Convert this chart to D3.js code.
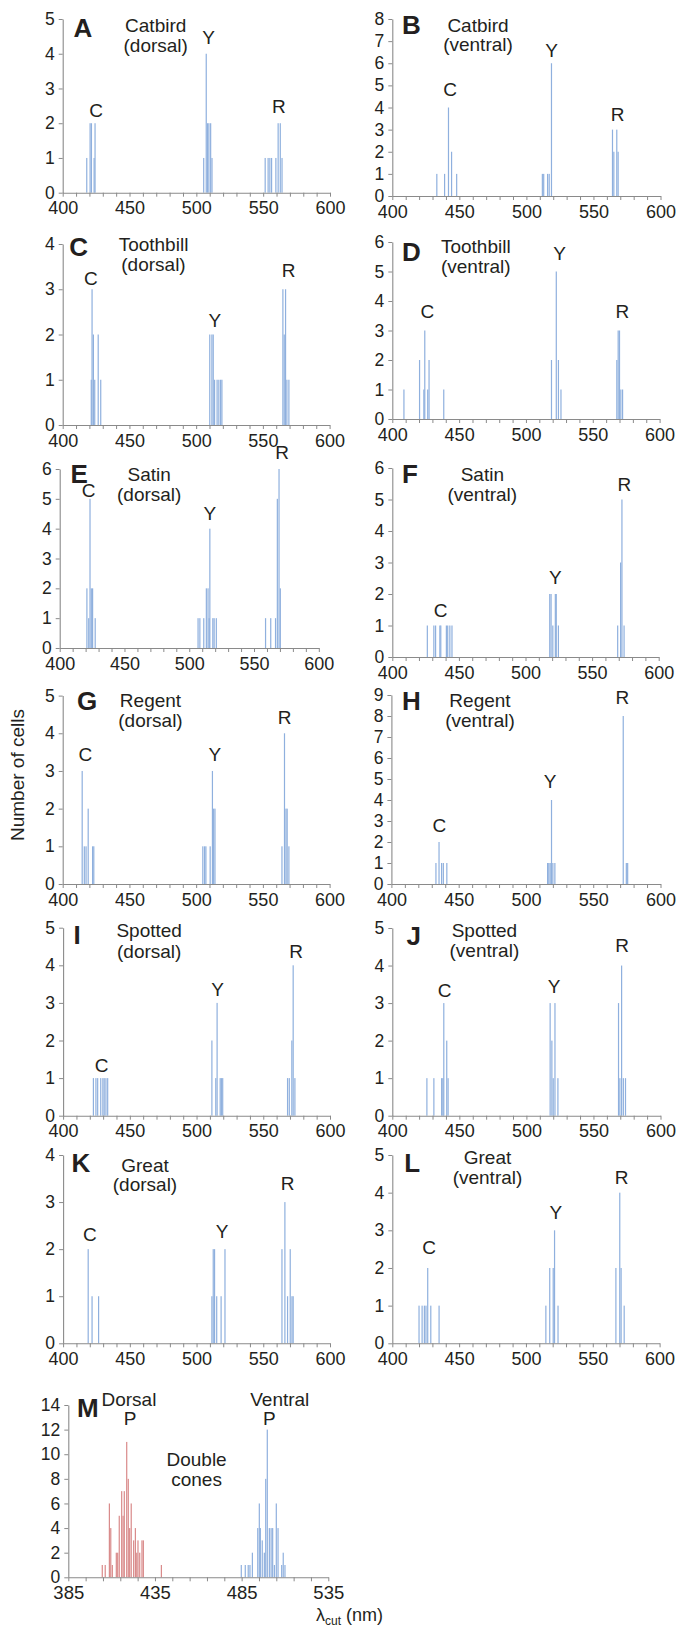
<!DOCTYPE html>
<html>
<head>
<meta charset="utf-8">
<script src="https://cdn.jsdelivr.net/npm/d3@7"></script>
<style>
  body { margin: 0; background: #fff; }
  svg { display: block; }
  text { font-family: "Liberation Sans", Arial, Helvetica, sans-serif; fill: #231f20; }
</style>
</head>
<body>
<svg id="chart" width="679" height="1628"></svg>
<script>
// ---- Single-cone λcut histograms (wavelength in nm, number of cells) ----
const catbirdDorsalNm    = [418, 420.5, 421.5, 423.5, 424.2, 505.5, 507.4, 508.4, 509.4, 510.7, 511.7, 551.5, 553.7, 555, 556.3, 559.5, 561.2, 562.8, 564.1];
const catbirdDorsalN     = [1, 2, 2, 1, 2, 1, 4, 2, 2, 2, 1, 1, 1, 1, 1, 1, 2, 2, 1];
const catbirdVentralNm   = [433.2, 439, 441.9, 444.2, 448, 511.9, 512.9, 515.8, 517, 518.7, 564.2, 565.2, 567.4, 568.4];
const catbirdVentralN    = [1, 1, 4, 2, 1, 1, 1, 1, 1, 6, 3, 2, 3, 2];
const toothbillDorsalNm  = [421.4, 422, 423, 424, 426.6, 428.5, 510.2, 511.8, 512.8, 513.8, 515.7, 517, 518.3, 519.3, 565, 566, 567, 568, 569.5];
const toothbillDorsalN   = [1, 3, 2, 1, 2, 1, 2, 2, 2, 1, 1, 1, 1, 1, 3, 2, 3, 1, 1];
const toothbillVentralNm = [408.7, 420.4, 423.6, 424.3, 426.5, 427.5, 438.5, 519.1, 522.7, 524.3, 526.2, 568, 569, 570, 571, 572.3];
const toothbillVentralN  = [1, 2, 1, 3, 1, 2, 1, 2, 5, 2, 1, 2, 3, 3, 1, 1];
const satinDorsalNm      = [421, 422.4, 423.4, 424.4, 425.4, 427.4, 506.8, 508.2, 511.2, 513.2, 514.5, 515.4, 515.9, 518.2, 519.2, 520.9, 558.9, 562.9, 566.6, 568, 569.3, 570.3];
const satinDorsalN       = [2, 1, 5, 2, 2, 1, 1, 1, 1, 2, 2, 1, 4, 1, 1, 1, 1, 1, 1, 5, 6, 2];
const satinVentralNm     = [426.3, 431.2, 432.5, 435.7, 436.4, 440.6, 441.6, 443.2, 444.8, 518.2, 519.2, 520.5, 522.4, 523.1, 524.7, 569.2, 571.4, 572.4, 574];
const satinVentralN      = [1, 1, 1, 1, 1, 1, 1, 1, 1, 2, 2, 1, 2, 2, 1, 1, 3, 5, 1];
const regentDorsalNm     = [414.6, 416.2, 417.5, 419.1, 422.4, 423.3, 505, 506.3, 507.3, 510.5, 512.2, 513.1, 514.1, 564.3, 566.2, 567.3, 568.2, 569.5];
const regentDorsalN      = [3, 1, 1, 2, 1, 1, 1, 1, 1, 1, 3, 2, 2, 1, 4, 2, 2, 1];
const regentVentralNm    = [433.1, 435.4, 437.3, 438.6, 441.2, 516.1, 517, 518, 519, 520, 521.5, 572.3, 574.6, 575.6];
const regentVentralN     = [1, 2, 1, 1, 1, 1, 1, 1, 4, 1, 1, 8, 1, 1];
const spottedDorsalNm    = [422.7, 424.6, 425.9, 428.2, 429.8, 430.8, 432.1, 433.4, 511.5, 514.4, 515.4, 517.7, 518.6, 519.6, 568.2, 569.5, 571.4, 572.4, 573.7];
const spottedDorsalN     = [1, 1, 1, 1, 1, 1, 1, 1, 2, 1, 3, 1, 1, 1, 1, 1, 2, 4, 1];
const spottedVentralNm   = [425.8, 431, 436.8, 437.7, 438.4, 440.6, 441.6, 517.7, 519, 520, 521.3, 523.5, 568.7, 569.7, 571, 572.3, 573.9];
const spottedVentralN    = [1, 1, 1, 1, 3, 2, 1, 3, 2, 1, 3, 1, 3, 1, 4, 1, 1];
const greatDorsalNm      = [418.8, 421.7, 426.6, 511.5, 512.5, 513.5, 515.1, 518.4, 521.3, 564, 566.2, 568.2, 570.2, 571.5, 572.4];
const greatDorsalN       = [2, 1, 1, 1, 2, 2, 1, 1, 2, 2, 3, 1, 2, 1, 1];
const greatVentralNm     = [420, 422.3, 424, 425.2, 426.5, 428.8, 435, 514.9, 517.8, 520.4, 521.4, 524, 567.3, 570.2, 571.2, 573.5];
const greatVentralN      = [1, 1, 1, 1, 2, 1, 1, 1, 2, 2, 3, 1, 2, 4, 2, 1];

// ---- Double-cone λcut histograms ----
const doubleDorsalNm  = [404.6, 406.3, 408.7, 409.5, 410.4, 412.7, 413.5, 414.4, 415.8, 416.6, 417.3, 418.7, 419.6, 420.4, 421.3, 422.7, 423.7, 424.5, 425.2, 426.2, 427.5, 428.3, 438.7];
const doubleDorsalN   = [1, 1, 6, 4, 1, 2, 2, 5, 7, 5, 7, 11, 8, 4, 6, 3, 4, 2, 3, 2, 3, 3, 1];
const doubleVentralNm = [484.8, 487.1, 488.8, 489.8, 491.2, 494.3, 495.2, 495.8, 496.9, 498.1, 498.9, 499.8, 501, 502, 502.9, 503.9, 505, 506, 508.1, 509, 510];
const doubleVentralN  = [1, 1, 1, 1, 2, 4, 6, 4, 3, 2, 8, 12, 4, 4, 4, 1, 6, 4, 1, 2, 1];

// ---- Axis ticks ----
const singleConeTicks = [400, 450, 500, 550, 600];
const doubleConeTicks = [385, 435, 485, 535];

const blue = "#8fb0de";
const red  = "#d98a8a";

// Panel geometry: x0/x1 = pixel span of the wavelength axis, base/top = pixel span of the count axis.
const panels = [
  { id: "A", nm: catbirdDorsalNm,    n: catbirdDorsalN,    x0: 62.7,  x1: 330,   base: 192.7,  top: 19,    yMax: 5, title: ["Catbird", "(dorsal)"],    letter: [10.8, 17.7], tpos: [93, 13, 33],
    peaks: [["C", 425, 2.18], ["Y", 509.1, 4.27], ["R", 561.8, 2.29]] },
  { id: "B", nm: catbirdVentralNm,   n: catbirdVentralN,   x0: 392.3, x1: 660.5, base: 196,    top: 19,    yMax: 8, title: ["Catbird", "(ventral)"],   letter: [9.7, 15],    tpos: [85.7, 13, 31.7],
    peaks: [["C", 443.2, 4.52], ["Y", 518.8, 6.3], ["R", 568.1, 3.39]] },
  { id: "C", nm: toothbillDorsalNm,  n: toothbillDorsalN,  x0: 62.7,  x1: 329.6, base: 425,    top: 244,   yMax: 4, title: ["Toothbill", "(dorsal)"],  letter: [6.5, 11.7],  tpos: [90.8, 7, 27],
    peaks: [["C", 421.1, 3.09], ["Y", 514.1, 2.17], ["R", 569.3, 3.26]] },
  { id: "D", nm: toothbillVentralNm, n: toothbillVentralN, x0: 392.3, x1: 659.6, base: 419,    top: 242,   yMax: 6, title: ["Toothbill", "(ventral)"], letter: [9.7, 18.7],  tpos: [83.5, 11.3, 31.3],
    peaks: [["C", 426.2, 3.41], ["Y", 525.2, 5.38], ["R", 572.1, 3.41]] },
  { id: "E", nm: satinDorsalNm,      n: satinDorsalN,      x0: 59.7,  x1: 318.8, base: 648,    top: 469,   yMax: 6, title: ["Satin", "(dorsal)"],      letter: [10.8, 14],   tpos: [89.5, 12.3, 31.7],
    peaks: [["C", 422.3, 5.06], ["Y", 515.9, 4.3], ["R", 571.6, 6.35]] },
  { id: "F", nm: satinVentralNm,     n: satinVentralN,     x0: 392.3, x1: 658.7, base: 657,    top: 468,   yMax: 6, title: ["Satin", "(ventral)"],     letter: [9.7, 15],    tpos: [90, 13.3, 33.3],
    peaks: [["C", 436.3, 1.26], ["Y", 522.4, 2.32], ["R", 574.3, 5.28]] },
  { id: "G", nm: regentDorsalNm,     n: regentDorsalN,     x0: 62.7,  x1: 329.6, base: 884,    top: 695.6, yMax: 5, title: ["Regent", "(dorsal)"],     letter: [14.3, 14.4], tpos: [87.8, 11.1, 31.1],
    peaks: [["C", 416.9, 3.26], ["Y", 514.1, 3.26], ["R", 566.3, 4.24]] },
  { id: "H", nm: regentVentralNm,    n: regentVentralN,    x0: 391.4, x1: 660.5, base: 884,    top: 695,   yMax: 9, title: ["Regent", "(ventral)"],    letter: [10.6, 15],   tpos: [88.6, 11.7, 31.7],
    peaks: [["C", 435.7, 2.48], ["Y", 518, 4.59], ["R", 571.6, 8.56]] },
  { id: "I", nm: spottedDorsalNm,    n: spottedDorsalN,    x0: 63.1,  x1: 330,   base: 1115.7, top: 927.7, yMax: 5, title: ["Spotted", "(dorsal)"],    letter: [10.4, 16.3], tpos: [86.1, 9, 30.6],
    peaks: [["C", 428.8, 1.17], ["Y", 515.8, 3.18], ["R", 574.7, 4.2]] },
  { id: "J", nm: spottedVentralNm,   n: spottedVentralN,   x0: 392.3, x1: 660.5, base: 1115.7, top: 928,   yMax: 5, title: ["Spotted", "(ventral)"],   letter: [14.3, 17],   tpos: [92.1, 8.7, 29.3],
    peaks: [["C", 439, 3.17], ["Y", 520.7, 3.28], ["R", 571.3, 4.37]] },
  { id: "K", nm: greatDorsalNm,      n: greatDorsalN,      x0: 63.1,  x1: 330,   base: 1343.3, top: 1155,  yMax: 4, title: ["Great", "(dorsal)"],      letter: [8.3, 17],    tpos: [81.9, 16.7, 36],
    peaks: [["C", 420.1, 2.17], ["Y", 519.1, 2.24], ["R", 568.3, 3.25]] },
  { id: "L", nm: greatVentralNm,     n: greatVentralN,     x0: 392.3, x1: 659.6, base: 1343.3, top: 1155,  yMax: 5, title: ["Great", "(ventral)"],     letter: [12, 17],     tpos: [95.2, 9, 29],
    peaks: [["C", 427.5, 2.36], ["Y", 522.3, 3.29], ["R", 571.5, 4.22]] }
];

const svg = d3.select("#chart");
const axisGrey = "#8a8a8a";

function styleAxis(g, size) {
  g.selectAll("path.domain").attr("stroke", axisGrey).attr("stroke-width", 1.1);
  g.selectAll(".tick line").attr("stroke", axisGrey).attr("stroke-width", 1);
  g.selectAll(".tick text")
    .attr("fill", "#231f20")
    .style("font-family", "'Liberation Sans', Arial, sans-serif")
    .style("font-size", size + "px");
}

function drawBars(g, x, y, nm, n, color) {
  g.append("g").selectAll("rect")
    .data(nm.map((w, i) => ({ w, c: n[i] })))
    .join("rect")
    .attr("x", d => x(d.w) - 0.6)
    .attr("width", 1.2)
    .attr("y", d => y(d.c))
    .attr("height", d => y(0) - y(d.c))
    .attr("fill", color);
}

panels.forEach(p => {
  const x = d3.scaleLinear().domain([400, 600]).range([p.x0, p.x1]);
  const y = d3.scaleLinear().domain([0, p.yMax]).range([p.base, p.top]);
  const g = svg.append("g").attr("class", "panel-" + p.id);

  drawBars(g, x, y, p.nm, p.n, blue);

  g.append("g")
    .attr("transform", `translate(0,${p.base})`)
    .call(d3.axisBottom(x)
      .tickValues(d3.range(400, 601, 10))
      .tickSize(4).tickSizeOuter(0).tickPadding(5)
      .tickFormat(d => singleConeTicks.includes(d) ? d : ""))
    .call(styleAxis, 18);

  g.append("g")
    .attr("transform", `translate(${p.x0},0)`)
    .call(d3.axisLeft(y)
      .tickValues(d3.range(0, p.yMax + 1))
      .tickSize(4).tickSizeOuter(0).tickPadding(4)
      .tickFormat(d3.format("d")))
    .call(styleAxis, 17.5);

  // panel letter
  g.append("text")
    .attr("x", p.x0 + p.letter[0]).attr("y", p.top + p.letter[1])
    .style("font-size", "26px").style("font-weight", "bold")
    .text(p.id);

  // bird and body region
  const t = g.append("text").attr("text-anchor", "middle").style("font-size", "19px");
  t.append("tspan").attr("x", p.x0 + p.tpos[0]).attr("y", p.top + p.tpos[1]).text(p.title[0]);
  t.append("tspan").attr("x", p.x0 + p.tpos[0]).attr("y", p.top + p.tpos[2]).text(p.title[1]);

  // cone class labels above each cluster
  g.selectAll("text.peak")
    .data(p.peaks)
    .join("text")
    .attr("class", "peak")
    .attr("text-anchor", "middle")
    .attr("x", d => x(d[1]))
    .attr("y", d => y(d[2]))
    .style("font-size", "19px")
    .text(d => d[0]);
});

// ---- Panel M: double cones ----
{
  const x = d3.scaleLinear().domain([385, 535]).range([68.3, 328.3]);
  const y = d3.scaleLinear().domain([0, 14]).range([1577.3, 1405]);
  const g = svg.append("g").attr("class", "panel-M");

  drawBars(g, x, y, doubleDorsalNm, doubleDorsalN, red);
  drawBars(g, x, y, doubleVentralNm, doubleVentralN, blue);

  g.append("g")
    .attr("transform", `translate(0,${y(0)})`)
    .call(d3.axisBottom(x)
      .tickValues(d3.range(385, 536, 10))
      .tickSize(4).tickSizeOuter(0).tickPadding(5)
      .tickFormat(d => doubleConeTicks.includes(d) ? d : ""))
    .call(styleAxis, 18.5);

  g.append("g")
    .attr("transform", `translate(${x(385)},0)`)
    .call(d3.axisLeft(y)
      .tickValues(d3.range(0, 15, 2))
      .tickSize(4).tickSizeOuter(0).tickPadding(4))
    .call(styleAxis, 17.5);

  g.append("text").attr("x", 77).attr("y", 1417)
    .style("font-size", "26px").style("font-weight", "bold").text("M");

  const notes = [
    ["Dorsal", 420, 13.9], ["P", 420.6, 12.4],
    ["Ventral", 507, 13.9], ["P", 501, 12.4],
    ["Double", 459, 9.06], ["cones", 459, 7.44]
  ];
  g.selectAll("text.note")
    .data(notes)
    .join("text")
    .attr("class", "note")
    .attr("text-anchor", "middle")
    .attr("x", d => x(d[1]))
    .attr("y", d => y(d[2]))
    .style("font-size", "19px")
    .text(d => d[0]);
}

// ---- Shared axis titles ----
svg.append("text")
  .attr("transform", "translate(24,775) rotate(-90)")
  .attr("text-anchor", "middle")
  .style("font-size", "19px")
  .text("Number of cells");

const xl = svg.append("text").attr("x", 316).attr("y", 1621).style("font-size", "18px");
xl.append("tspan").text("λ");
xl.append("tspan").attr("dy", 4).style("font-size", "12px").text("cut");
xl.append("tspan").attr("dy", -4).text(" (nm)");
</script>
</body>
</html>
